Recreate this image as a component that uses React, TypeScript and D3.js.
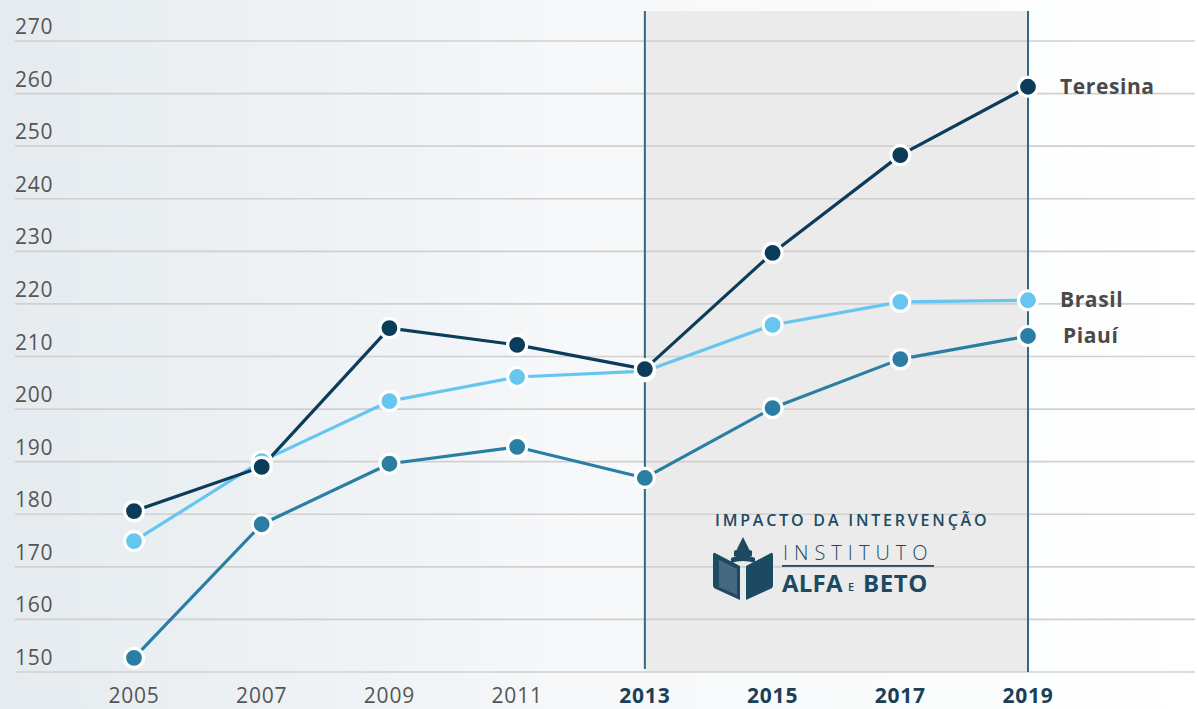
import React from "react";
import * as d3 from "d3";

const years = ["2005", "2007", "2009", "2011", "2013", "2015", "2017", "2019"];
const boldYears = ["2013", "2015", "2017", "2019"];
const yTicks = [150, 160, 170, 180, 190, 200, 210, 220, 230, 240, 250, 260, 270];

const teresina = [180.6, 189.0, 215.4, 212.2, 207.6, 229.7, 248.3, 261.3];
const brasil = [174.9, 190.1, 201.5, 206.1, 207.2, 216.0, 220.4, 220.7];
const piaui = [152.7, 178.1, 189.6, 192.8, 186.9, 200.2, 209.5, 213.9];

const seriesNames = ["Teresina", "Brasil", "Piauí"];
const seriesColors = ["#0b3d5b", "#66c6f0", "#2b7ea3"];

const FONT = "'Open Sans', 'DejaVu Sans', sans-serif";

export default function App() {
  const W = 1198, H = 709;
  const x = d3.scalePoint<string>().domain(years).range([134, 1028]);
  const y = d3.scaleLinear().domain([150, 270]).range([672, 41]);
  const line = d3
    .line<number>()
    .x((_, i) => x(years[i]) as number)
    .y((d) => y(d))
    .curve(d3.curveLinear);

  const all = [teresina, brasil, piaui];
  const order = [2, 1, 0];
  const x13 = x("2013") as number;
  const x19 = x("2019") as number;
  const topY = 11;
  const bottomY = y(150);

  const labelY = [y(teresina[7]), y(brasil[7]), y(piaui[7])];

  return (
    <svg
      width={W}
      height={H}
      style={{ position: "absolute", left: 0, top: 0, display: "block" }}
      fontFamily={FONT}
    >
      <defs>
        <linearGradient id="bg" x1="0" y1="0" x2="1" y2="0">
          <stop offset="0" stopColor="#e5ebef" />
          <stop offset="0.45" stopColor="#f5f7f9" />
          <stop offset="0.85" stopColor="#fcfdfd" />
          <stop offset="1" stopColor="#ffffff" />
        </linearGradient>
      </defs>
      <rect x={0} y={0} width={W} height={H} fill="url(#bg)" />
      <rect x={x13} y={topY} width={x19 - x13} height={bottomY - topY} fill="#ebebeb" />

      {yTicks.map((t) => (
        <g key={t}>
          <line x1={15} x2={1195} y1={y(t)} y2={y(t)} stroke="#d0d0d0" strokeWidth={1.6} />
          <text x={15} y={y(t) - 7} fontSize={21} fill="#555" letterSpacing={0.8}>
            {t}
          </text>
        </g>
      ))}

      <line x1={x13} x2={x13} y1={topY} y2={bottomY - 3} stroke="#2f6a86" strokeWidth={2} />
      <line x1={x19} x2={x19} y1={topY} y2={bottomY} stroke="#2f6a86" strokeWidth={2} />

      {years.map((yr) => {
        const b = boldYears.includes(yr);
        return (
          <text
            key={yr}
            x={x(yr)}
            y={703}
            textAnchor="middle"
            fontSize={21}
            fontWeight={b ? 700 : 400}
            fill={b ? "#1b3f57" : "#555"}
            letterSpacing={0.8}
          >
            {yr}
          </text>
        );
      })}

      {order.map((si) => (
        <path key={"l" + si} d={line(all[si]) || ""} fill="none" stroke={seriesColors[si]} strokeWidth={3.2} strokeLinejoin="round" />
      ))}
      {order.map((si) =>
        all[si].map((v, i) => (
          <circle
            key={"c" + si + "-" + i}
            cx={x(years[i])}
            cy={y(v)}
            r={9.5}
            fill={seriesColors[si]}
            stroke="#fff"
            strokeWidth={3.2}
          />
        ))
      )}

      {seriesNames.map((n, i) => (
        <text
          key={n}
          x={1060 + (i === 2 ? 3 : 0)}
          y={labelY[i] + 7}
          fontSize={21}
          fontWeight={700}
          fill="#4a4a4a"
          letterSpacing={0.6}
        >
          {n}
        </text>
      ))}

      {/* Logo */}
      <g fill="#1d4a63">
        <text x={715} y={526} fontSize={16} fontWeight={600} letterSpacing={2.8}>
          IMPACTO DA INTERVENÇÃO
        </text>
        {/* book icon */}
        <path d="M743,537 L749,549 L737,549 Z" />
        <path d="M734,551 Q743,545 752,551 L752,556 L734,556 Z" />
        <path d="M731,558 Q743,552 755,558 L755,563 Q743,559 731,563 Z" />
        <path d="M715,553 L740,566 L740,600 L716,589 Q713,588 713,585 L713,556 Q713,552 715,553 Z" />
        <path d="M771,553 L746,566 L746,600 L770,589 Q773,588 773,585 L773,556 Q773,552 771,553 Z" />
        <path d="M719,560 L737,569 L737,595 L719,587 Z" fill="#ffffff" opacity={0.18} />
        <text x={783} y={560} fontSize={20} fontWeight={300} letterSpacing={6}>
          INSTITUTO
        </text>
        <rect x={782} y={565} width={152} height={1.8} />
        <text x={782} y={592} fontSize={24} fontWeight={700} letterSpacing={0.2}>
          ALFA
        </text>
        <text x={848} y={591} fontSize={11} fontWeight={600}>
          E
        </text>
        <text x={863} y={592} fontSize={24} fontWeight={700} letterSpacing={0.6}>
          BETO
        </text>
      </g>
    </svg>
  );
}
